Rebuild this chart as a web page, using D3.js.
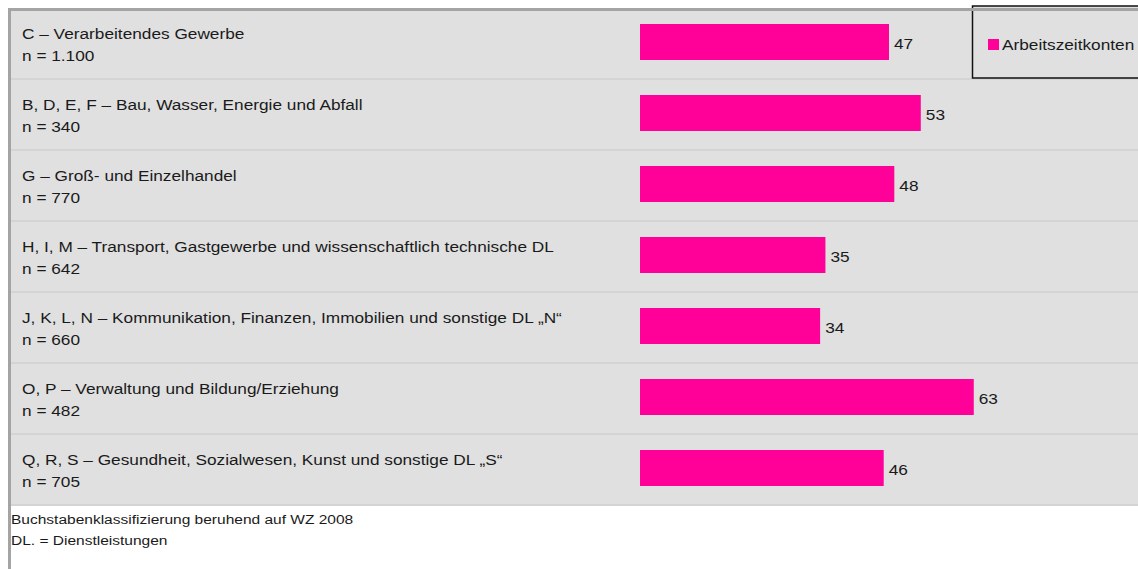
<!DOCTYPE html>
<html>
<head>
<meta charset="utf-8">
<script src="https://cdn.jsdelivr.net/npm/d3@7"></script>
<style>
  body { margin: 0; background: #fff; }
  text { font-family: "Liberation Sans", Arial, sans-serif; fill: #1a1a1a; }
</style>
</head>
<body>
<div id="chart"></div>
<script>
// categories (WZ 2008 letter groups), sample sizes and values
var categories = [
  "C – Verarbeitendes Gewerbe",
  "B, D, E, F – Bau, Wasser, Energie und Abfall",
  "G – Groß- und Einzelhandel",
  "H, I, M – Transport, Gastgewerbe und wissenschaftlich technische DL",
  "J, K, L, N – Kommunikation, Finanzen, Immobilien und sonstige DL „N“",
  "O, P – Verwaltung und Bildung/Erziehung",
  "Q, R, S – Gesundheit, Sozialwesen, Kunst und sonstige DL „S“"
];
var sampleSizes = ["1.100", "340", "770", "642", "660", "482", "705"];
var values = [47, 53, 48, 35, 34, 63, 46];
var seriesName = "Arbeitszeitkonten";
var footnotes = ["Buchstabenklassifizierung beruhend auf WZ 2008", "DL. = Dienstleistungen"];

var W = 1138, H = 569;
var pink = "#ff0099";
var stretch = 1.15; // text in the original is a bit wide

var svg = d3.select("#chart").append("svg")
    .attr("width", W)
    .attr("height", H);

// rows
var yBand = d3.scaleBand()
  .domain(categories)
  .range([8, 505])
  .padding(0);

var xScale = d3.scaleLinear()
  .domain([0, 94])
  .range([640, W]);

// panel background
svg.append("rect")
  .attr("x", 8).attr("y", 8)
  .attr("width", W - 8).attr("height", 505 - 8)
  .attr("fill", "#e0e0e0");

// row separators
svg.selectAll(".sep")
  .data(categories)
  .enter().append("line")
    .attr("class", "sep")
    .attr("x1", 8).attr("x2", W)
    .attr("y1", function(d) { return yBand(d) + yBand.bandwidth(); })
    .attr("y2", function(d) { return yBand(d) + yBand.bandwidth(); })
    .attr("stroke", "#d4d4d4")
    .attr("stroke-width", 2);

// helper for the slightly wide text
function wideText(x, y, str, size) {
  return svg.append("text")
    .attr("transform", "translate(" + x + "," + y + ") scale(" + stretch + ",1)")
    .attr("font-size", size)
    .text(str);
}

// category labels
categories.forEach(function(c, i) {
  var top = yBand(c);
  wideText(22, top + 31, c, "15px");
  wideText(22, top + 53, "n = " + sampleSizes[i], "15px");
});

// bars
svg.selectAll(".bar")
  .data(values)
  .enter().append("rect")
    .attr("class", "bar")
    .attr("x", xScale(0))
    .attr("y", function(d, i) { return yBand(categories[i]) + 16; })
    .attr("width", function(d) { return xScale(d) - xScale(0); })
    .attr("height", 36)
    .attr("fill", pink);

// value labels
values.forEach(function(v, i) {
  wideText(xScale(v) + 5, yBand(categories[i]) + 41, v, "15px");
});

// legend
svg.append("rect")
  .attr("x", 972.5).attr("y", 6)
  .attr("width", 200).attr("height", 72)
  .attr("fill", "#e0e0e0")
  .attr("stroke", "#111")
  .attr("stroke-width", 1.5);
svg.append("rect")
  .attr("x", 988).attr("y", 39)
  .attr("width", 11).attr("height", 11)
  .attr("fill", pink);
wideText(1002, 50, seriesName, "15px");

// borders
svg.append("rect")
  .attr("x", 8).attr("y", 8)
  .attr("width", W - 8).attr("height", 3)
  .attr("fill", "#a4a4a4");
svg.append("rect")
  .attr("x", 8).attr("y", 8)
  .attr("width", 3).attr("height", H - 8)
  .attr("fill", "#a4a4a4");

// footnotes
footnotes.forEach(function(f, i) {
  wideText(11, 524 + i * 21, f, "13.5px");
});
</script>
</body>
</html>
